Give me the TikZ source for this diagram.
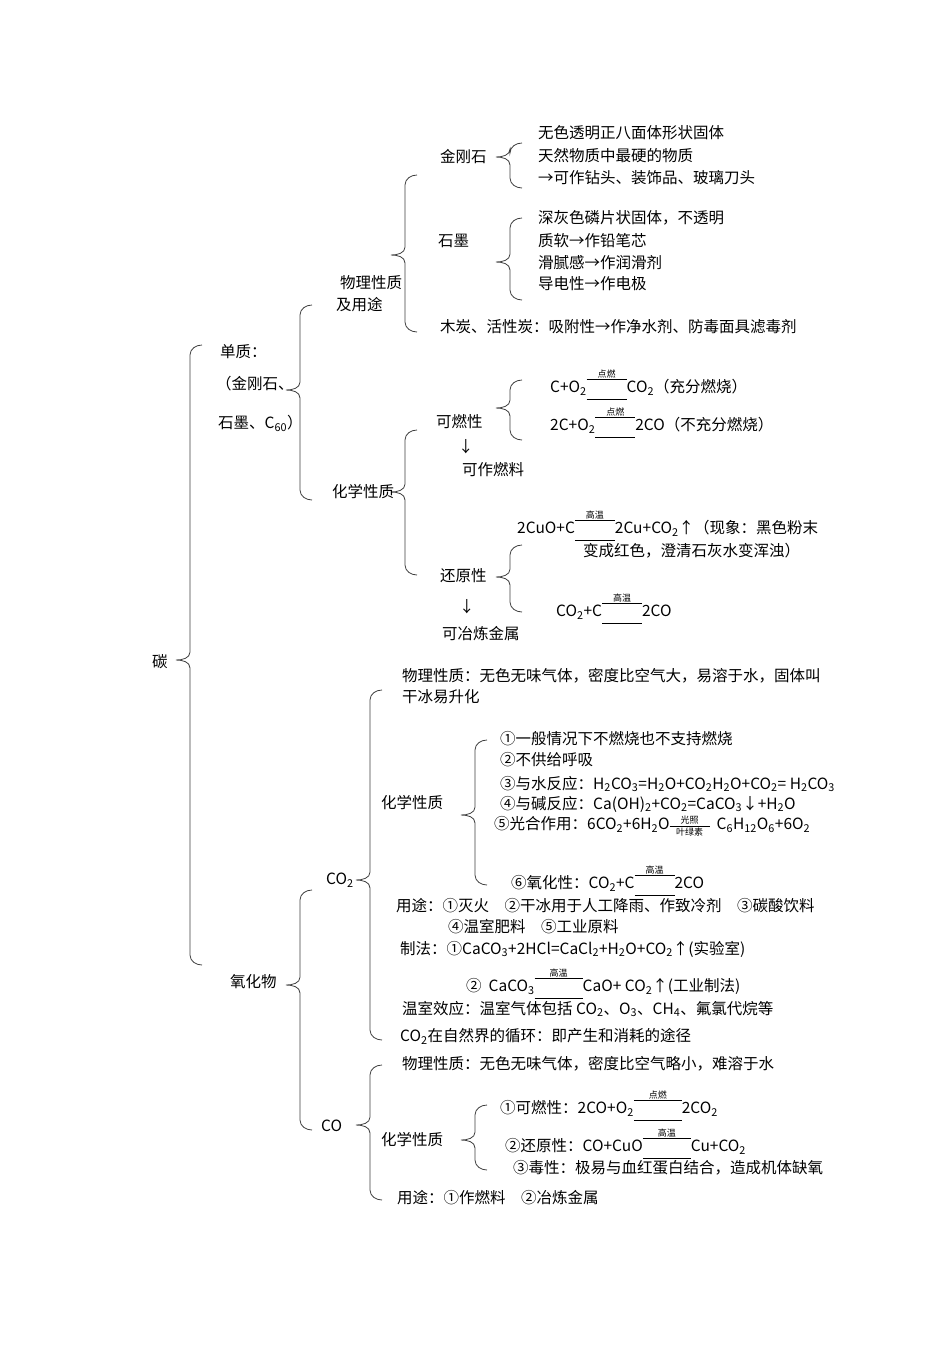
\documentclass[tikz,border=0pt]{standalone}
\usepackage{fontspec}
\setmainfont{Noto Sans CJK SC}
\newcommand\s[1]{\textsubscript{#1}}
\newcommand\yld[2]{$\mathop{\vcenter{\hbox{\rule{#2}{0.6pt}}\vskip2pt\hbox{\rule{#2}{0.6pt}}}}\limits^{\hbox{\fontsize{9}{9}\selectfont #1}}$}
\newcommand\yls[3]{$\mathop{\vcenter{\hbox{\rule{#3}{0.6pt}}}}\limits^{\hbox{\fontsize{9}{9}\selectfont #1}}_{\hbox{\fontsize{9}{9}\selectfont #2}}$}
\newcommand\brc[4]{% x, top, tip, bottom
 \draw[br] (#1+12,#2) to[out=180,in=90] (#1,#2+10) -- (#1,#3-8) to[out=-90,in=0] (#1-14,#3) to[out=0,in=90] (#1,#3+8) -- (#1,#4-10) to[out=-90,in=180] (#1+12,#4);}
\begin{document}
\begin{tikzpicture}[x=1pt,y=-1pt,
 t/.style={anchor=west,inner sep=0pt,font=\fontsize{15.5}{18}\selectfont},
 br/.style={draw=black!75,line width=0.8pt}]
\useasboundingbox[fill=white] (0,0) rectangle (950,1345);
% braces
\brc{190}{345}{660}{965}
\brc{300}{305}{390}{500}
\brc{405}{175}{255}{332}
\brc{510}{143}{157}{188}
\brc{510}{218}{262}{300}
\brc{405}{430}{492}{575}
\brc{510}{380}{408}{440}
\brc{510}{545}{577}{612}
\brc{300}{890}{985}{1130}
\brc{370}{690}{880}{1040}
\brc{475}{740}{815}{885}
\brc{370}{1065}{1125}{1200}
\brc{475}{1105}{1140}{1170}
% left labels
\node[t] (tan) at (152,662) {碳};
\node[t] (dz1) at (220,352) {单质：};
\node[t] (dz2) at (216,384) {（金刚石、};
\node[t] (dz3) at (218,423) {石墨、C\s{60}）};
\node[t] (wl1) at (340,283) {物理性质};
\node[t] (wl2) at (336,305) {及用途};
\node[t] (jgs) at (440,157) {金刚石};
\node[t] (sm) at (438,241) {石墨};
\node[t] (j1) at (538,133) {无色透明正八面体形状固体};
\node[t] (j2) at (538,156) {天然物质中最硬的物质};
\node[t] (j3) at (538,178) {→可作钻头、装饰品、玻璃刀头};
\node[t] (s1) at (538,218) {深灰色磷片状固体，不透明};
\node[t] (s2) at (538,241) {质软→作铅笔芯};
\node[t] (s3) at (538,263) {滑腻感→作润滑剂};
\node[t] (s4) at (538,284) {导电性→作电极};
\node[t] (mt) at (440,327) {木炭、活性炭：吸附性→作净水剂、防毒面具滤毒剂};
\node[t] (hx1) at (332,492) {化学性质};
\node[t] (krx) at (436,422) {可燃性};
\node[t] (ar1) at (458,447) {↓};
\node[t] (kzrl) at (462,470) {可作燃料};
\node[t] (e1) at (550,384) {C+O\s{2}\yld{点燃}{40pt}CO\s{2}（充分燃烧）};
\node[t] (e2) at (550,422) {2C+O\s{2}\yld{点燃}{40pt}2CO（不充分燃烧）};
\node[t] (hyx) at (440,576) {还原性};
\node[t] (ar2) at (459,607) {↓};
\node[t] (kyl) at (442,634) {可冶炼金属};
\node[t] (e3) at (517,525) {2CuO+C\yld{高温}{40pt}2Cu+CO\s{2}↑（现象：黑色粉末};
\node[t] (e3b) at (583,551) {变成红色，澄清石灰水变浑浊）};
\node[t] (e4) at (556,608) {CO\s{2}+C\yld{高温}{40pt}2CO};
% oxides
\node[t] (yhw) at (230,982) {氧化物};
\node[t] (co2) at (326,880) {CO\s{2}};
\node[t] (co) at (321,1126) {CO};
\node[t] (p1) at (402,676) {物理性质：无色无味气体，密度比空气大，易溶于水，固体叫};
\node[t] (p1b) at (402,697) {干冰易升化};
\node[t] (hx2) at (381,803) {化学性质};
\node[t] (c1) at (500,739) {①一般情况下不燃烧也不支持燃烧};
\node[t] (c2) at (500,760) {②不供给呼吸};
\node[t] (c3) at (500,784) {③与水反应：H\s{2}CO\s{3}=H\s{2}O+CO\s{2}H\s{2}O+CO\s{2}= H\s{2}CO\s{3}};
\node[t] (c4) at (500,804) {④与碱反应：Ca(OH)\s{2}+CO\s{2}=CaCO\s{3}↓+H\s{2}O};
\node[t] (c5) at (494,826) {⑤光合作用：6CO\s{2}+6H\s{2}O\yls{光照}{叶绿素}{40pt}\ \ C\s{6}H\s{12}O\s{6}+6O\s{2}};
\node[t] (c6) at (511,880) {⑥氧化性：CO\s{2}+C\yld{高温}{40pt}2CO};
\node[t] (u1) at (396,906) {用途：①灭火\quad ②干冰用于人工降雨、作致冷剂\quad ③碳酸饮料};
\node[t] (u2) at (448,927) {④温室肥料\quad ⑤工业原料};
\node[t] (z1) at (400,949) {制法：①CaCO\s{3}+2HCl=CaCl\s{2}+H\s{2}O+CO\s{2}↑(实验室)};
\node[t] (z2) at (466,983) {② \ CaCO\s{3}\yld{高温}{48pt}CaO+ CO\s{2}↑(工业制法)};
\node[t] (ws) at (402,1009) {温室效应：温室气体包括 CO\s{2}、O\s{3}、CH\s{4}、氟氯代烷等};
\node[t] (xh) at (400,1036) {CO\s{2}在自然界的循环：即产生和消耗的途径};
\node[t] (p2) at (402,1064) {物理性质：无色无味气体，密度比空气略小，难溶于水};
\node[t] (hx3) at (381,1140) {化学性质};
\node[t] (d1) at (500,1105) {①可燃性：2CO+O\s{2}\yld{点燃}{48pt}2CO\s{2}};
\node[t] (d2) at (505,1143) {②还原性：CO+CuO\yld{高温}{48pt}Cu+CO\s{2}};
\node[t] (d3) at (513,1168) {③毒性：极易与血红蛋白结合，造成机体缺氧};
\node[t] (u3) at (397,1198) {用途：①作燃料\quad ②冶炼金属};
\end{tikzpicture}
\end{document}
